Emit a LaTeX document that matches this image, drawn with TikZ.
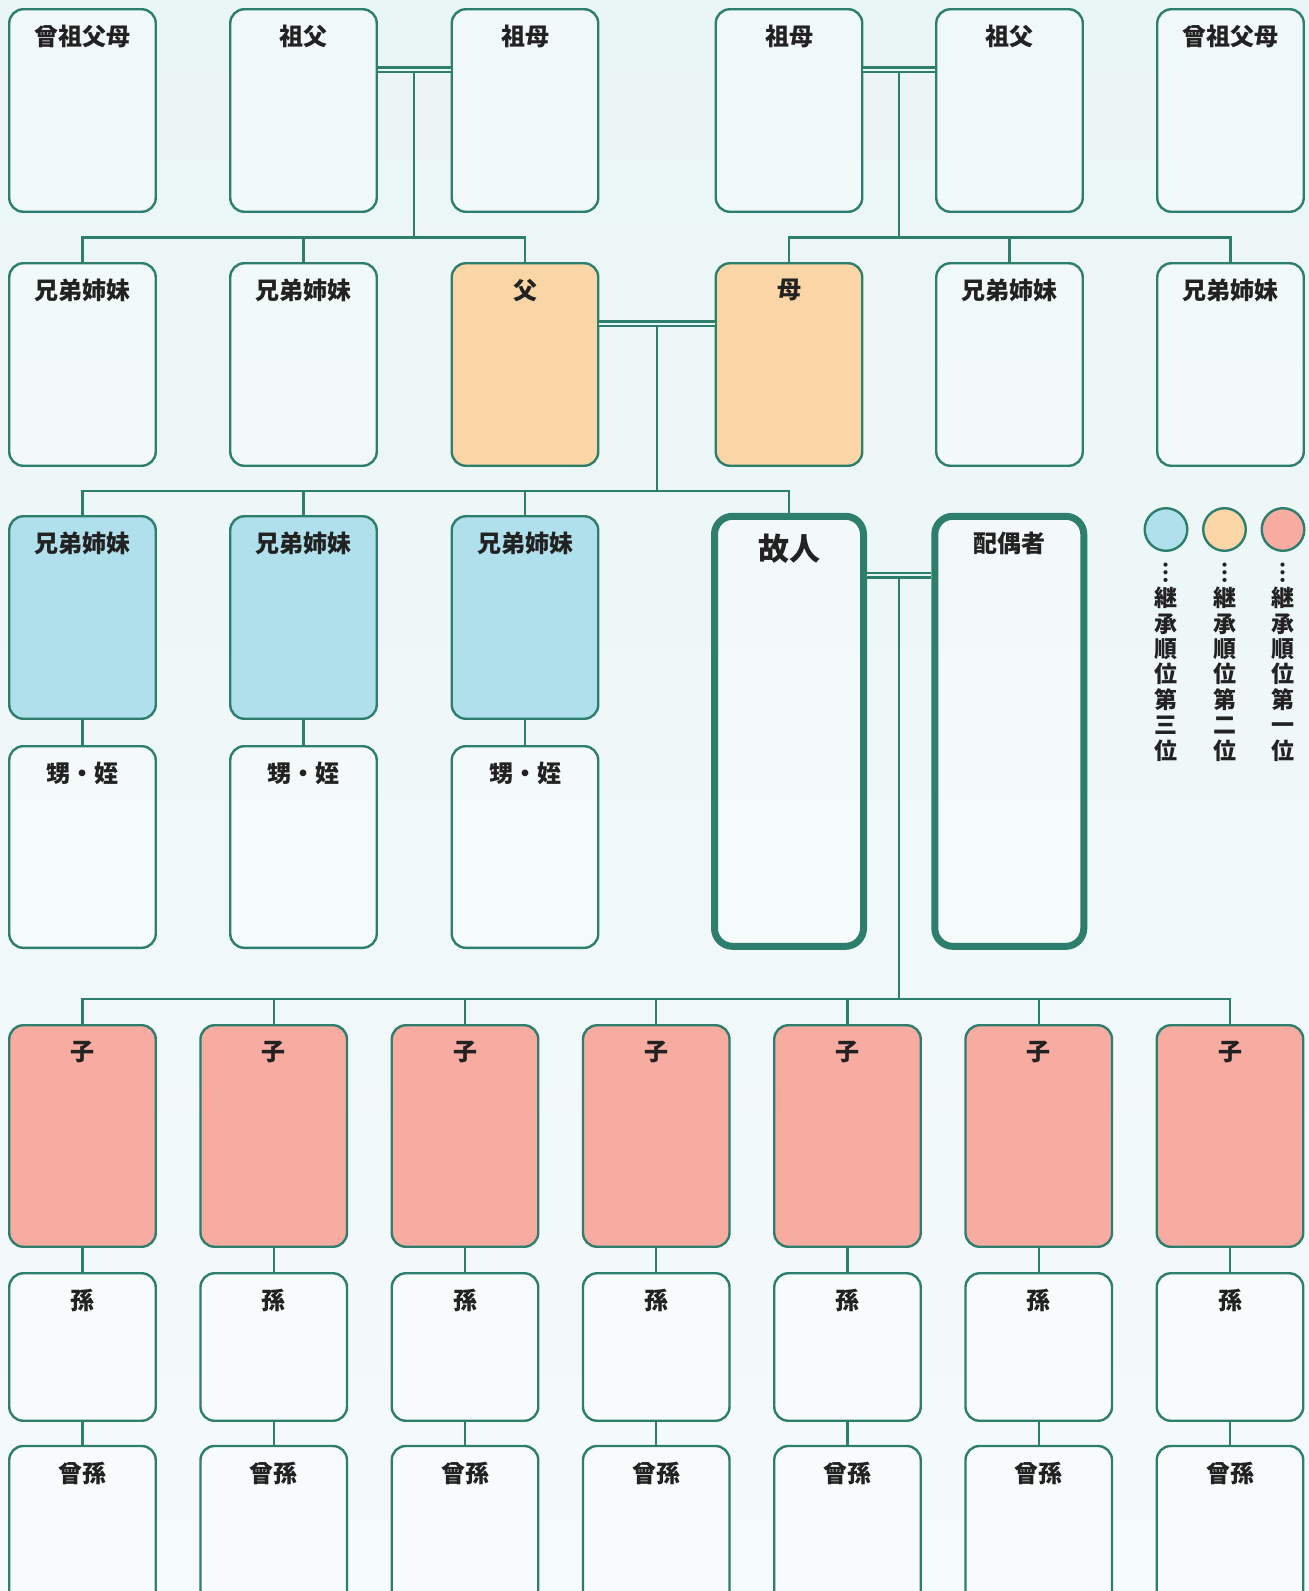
\documentclass[tikz,border=0pt]{standalone}
\usepackage{fontspec}
\setmainfont{Noto Sans CJK JP}
\usetikzlibrary{positioning}
\definecolor{rim}{RGB}{45,126,108}
\definecolor{ink}{RGB}{34,34,34}
\definecolor{heir1}{RGB}{248,171,161}
\definecolor{heir2}{RGB}{250,214,166}
\definecolor{heir3}{RGB}{176,224,236}
\definecolor{bgtop}{RGB}{234,245,246}
\definecolor{bgbot}{RGB}{245,250,251}

\begin{document}
\begin{tikzpicture}[x=1pt,y=-1pt]
    \tikzset{
        box/.style={draw=rim, line width=2.4pt, rounded corners=14pt, minimum width=146.5pt, minimum height=#1, inner sep=0pt, fill=white, fill opacity=0.35},
        box/.default=202.5pt,
        tint/.style={fill=#1, fill opacity=1},
        main/.style={box=430pt, line width=7pt, rounded corners=18pt, minimum width=149pt},
        title/.style={font=\bfseries\fontsize{24}{24}\selectfont, text=ink, inner sep=0pt, anchor=north, yshift=-17pt, fill opacity=1, text opacity=1},
        key/.style={circle, draw=rim, line width=2.4pt, fill=#1, minimum size=42.6pt, inner sep=0pt},
        keytext/.style={font=\bfseries\fontsize{23}{25.4}\selectfont, text=ink, align=center, inner sep=0pt},
        link/.style={draw=rim, line width=2.4pt},
        marry/.style={link, double=bgtop, double distance=2.2pt}
    }
    \path[use as bounding box, clip] (0,0) rectangle (1309,1591);
    \shade[top color=bgtop, bottom color=bgbot] (0,0) rectangle (1309,1591);

    %grandparents
    \node (ggpL) [box, label={[title]north:曾祖父母}] at (82.5,110.5) {};
    \node (gfL) [box, label={[title]north:祖父}] at (303.5,110.5) {};
    \node (gmL) [box, label={[title]north:祖母}] at (525,110.5) {};
    \node (gmR) [box, label={[title]north:祖母}] at (789,110.5) {};
    \node (gfR) [box, label={[title]north:祖父}] at (1009.5,110.5) {};
    \node (ggpR) [box, label={[title]north:曾祖父母}] at (1230.5,110.5) {};

    %parents and their siblings
    \node (sibF1) [box, label={[title]north:兄弟姉妹}] at (82.5,364.5) {};
    \node (sibF2) [box, label={[title]north:兄弟姉妹}] at (303.5,364.5) {};
    \node (father) [box, tint=heir2, label={[title]north:父}] at (525,364.5) {};
    \node (mother) [box, tint=heir2, label={[title]north:母}] at (789,364.5) {};
    \node (sibM1) [box, label={[title]north:兄弟姉妹}] at (1009.5,364.5) {};
    \node (sibM2) [box, label={[title]north:兄弟姉妹}] at (1230.5,364.5) {};

    %siblings
    \node (sib1) [box, tint=heir3, label={[title]north:兄弟姉妹}] at (82.5,617.5) {};
    \node (sib2) [box, tint=heir3, label={[title]north:兄弟姉妹}] at (303.5,617.5) {};
    \node (sib3) [box, tint=heir3, label={[title]north:兄弟姉妹}] at (525,617.5) {};
    \node (neph1) [box=201.6pt, label={[title]north:甥・姪}] at (82.5,847) {};
    \node (neph2) [box=201.6pt, label={[title]north:甥・姪}] at (303.5,847) {};
    \node (neph3) [box=201.6pt, label={[title]north:甥・姪}] at (525,847) {};

    %deceased and spouse
    \node (dec) [main, label={[title, yshift=-4pt, font=\bfseries\fontsize{31}{31}\selectfont]north:故人}] at (789,731.3) {};
    \node (spouse) [main, label={[title, yshift=-2pt]north:配偶者}] at (1009.3,731.3) {};

    %key
    \node (key3) [key=heir3] at (1166,529.5) {};
    \node (key2) [key=heir2] at (1224.5,529.5) {};
    \node (key1) [key=heir1] at (1283,529.5) {};
    \node (keytext3) [keytext, below=9pt of key3] {\rule{0pt}{20pt}︙\\継\\承\\順\\位\\第\\三\\位};
    \node (keytext2) [keytext, below=9pt of key2] {\rule{0pt}{20pt}︙\\継\\承\\順\\位\\第\\二\\位};
    \node (keytext1) [keytext, below=9pt of key1] {\rule{0pt}{20pt}︙\\継\\承\\順\\位\\第\\一\\位};

    %descendants
    \foreach \i in {0,...,6} {
        \node (kid\i) [box=221.5pt, tint=heir1, label={[title]north:子}] at (82.5+191.25*\i,1136) {};
        \node (gkid\i) [box=147.5pt, label={[title]north:孫}] at (82.5+191.25*\i,1347) {};
        \node (ggkid\i) [box=200pt, label={[title]north:曾孫}] at (82.5+191.25*\i,1546) {};
        \draw[link] (kid\i.south) -- (gkid\i.north);
        \draw[link] (gkid\i.south) -- (ggkid\i.north);
    }

    % couples
    \draw[marry] ([yshift=-61.75pt]gfL.north east) -- coordinate (mGL) ([yshift=-61.75pt]gmL.north west);
    \draw[marry] ([yshift=-61.75pt]gmR.north east) -- coordinate (mGR) ([yshift=-61.75pt]gfR.north west);
    \draw[marry] ([yshift=-61.8pt]father.north east) -- coordinate (mP) ([yshift=-61.8pt]mother.north west);
    \draw[marry] ([yshift=-62.5pt]dec.north east) -- coordinate (mD) ([yshift=-62.5pt]spouse.north west);

    % lines of descent
    \draw[link] ([yshift=-2.3pt]mGL) |- ([yshift=24.5pt]sibF1.north) -- (sibF1.north);
    \draw[link] ([yshift=24.5pt]sibF1.north) -| (sibF2.north);
    \draw[link] ([yshift=24.5pt]sibF1.north) -| (father.north);

    \draw[link] ([yshift=-2.3pt]mGR) |- ([yshift=24.5pt]mother.north) -- (mother.north);
    \draw[link] ([yshift=24.5pt]mother.north) -| (sibM1.north);
    \draw[link] ([yshift=24.5pt]mother.north) -| (sibM2.north);

    \draw[link] ([yshift=-2.3pt]mP) |- ([yshift=24pt]sib1.north) -- (sib1.north);
    \draw[link] ([yshift=24pt]sib1.north) -| (sib2.north);
    \draw[link] ([yshift=24pt]sib1.north) -| (sib3.north);
    \draw[link] ([yshift=24pt]sib1.north) -| (dec.north);

    \draw[link] (sib1.south) -- (neph1.north);
    \draw[link] (sib2.south) -- (neph2.north);
    \draw[link] (sib3.south) -- (neph3.north);

    \draw[link] ([yshift=-2.3pt]mD) |- ([yshift=25pt]kid0.north) -- (kid0.north);
    \foreach \i in {1,...,6}
        \draw[link] ([yshift=25pt]kid0.north) -| (kid\i.north);
\end{tikzpicture}
\end{document}
